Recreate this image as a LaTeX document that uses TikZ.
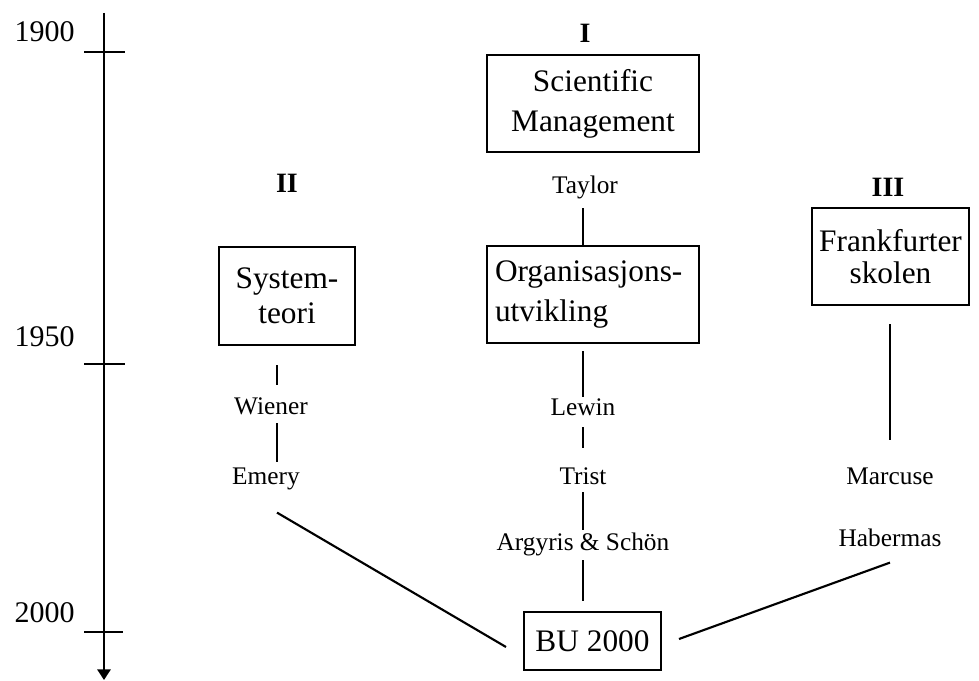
\documentclass[tikz,border=0pt]{standalone}
\usepackage{fontspec}
\setmainfont{Liberation Serif}
\usetikzlibrary{arrows.meta,calc}

\begin{document}
\begin{tikzpicture}[x=0.75pt,y=0.75pt,yscale=-1,xscale=1,
  box/.style={draw,line width=1.5pt,align=center,inner sep=2pt,font=\fontsize{23.5}{25}\selectfont},
  who/.style={inner sep=0pt,text height=13pt,text depth=4pt,font=\fontsize{19}{21}\selectfont},
  year/.style={anchor=east,inner sep=0pt,font=\fontsize{22.5}{24}\selectfont},
  school/.style={inner sep=0pt,font=\fontsize{21}{23}\selectfont\bfseries},
  link/.style={line width=1.6pt}]
\useasboundingbox (0,0) rectangle (979,681);

%Time axis
\coordinate (axtop) at (104,13);
\coordinate (axend) at (104,680);
\draw [line width=1.6pt,-{Triangle[width=10pt,length=8pt]}] (axtop) -- (axend);
\coordinate (t1900) at (104,52);
\coordinate (t1950) at (104,364);
\coordinate (t2000) at (104,632);
\draw [line width=1.8pt] (t1900) ++(-20,0) -- ++(41,0);
\draw [line width=1.8pt] (t1950) ++(-20,0) -- ++(41,0);
\draw [line width=0.8pt] (t2000) ++(-20,0) -- ++(39,0);

% Year labels
\node [year] (y1900) at (75,32) {1900};
\node [year] (y1950) at (75,337) {1950};
\node [year] (y2000) at (75,613) {2000};

% Column numbers
\node [school] (rI) at (585,33) {I};
\node [school] (rII) at (287,183) {II};
\node [school] (rIII) at (888,187) {III};

% Column lines
\coordinate (colII) at (277,0);
\coordinate (colI) at (583,0);
\coordinate (colIII) at (890,0);

% Boxes
\node [box,minimum width=159pt,minimum height=72.75pt,font=\fontsize{23.5}{30}\selectfont] (sm) at (593,103.5) {Scientific\\Management};
\node [box,minimum width=159pt,minimum height=72.75pt,text width=147pt,align=left,inner xsep=6pt,font=\fontsize{23.5}{30}\selectfont] (org) at (593,294.5) {Organisasjons-\\utvikling};
\node [box,minimum width=102pt,minimum height=73.5pt,font=\fontsize{23.5}{26}\selectfont] (sys) at (287,296) {System-\\teori};
\node [box,minimum width=117.75pt,minimum height=72.75pt,font=\fontsize{23.5}{24}\selectfont] (frank) at (890.5,256.5) {Frankfurter\\skolen};
\node [box,minimum width=102.75pt,minimum height=43.5pt] (bu) at (592.5,641) {BU 2000};

% Names
\node [who] (taylor) at (585,188) {Taylor};
\node [who] (wiener) at (271,408) {Wiener};
\node [who] (emery) at (266,478) {Emery};
\node [who] (lewin) at (583,409) {Lewin};
\node [who] (trist) at (583,478) {Trist};
\node [who] (argyris) at (583,544) {Argyris \& Schön};
\node [who] (marcuse) at (890,478) {Marcuse};
\node [who] (habermas) at (890,540) {Habermas};

% Links
\draw [link,shorten <=6.5pt] (taylor.south -| colI) -- (org.north -| colI);
\draw [link,shorten <=5.25pt] (org.south -| colI) -- (lewin.north -| colI);
\draw [link,shorten <=5pt,shorten >=14pt] (lewin.south -| colI) -- (trist.north -| colI);
\draw [link,shorten <=2pt,shorten >=2pt] (trist.south -| colI) -- (argyris.north -| colI);
\draw [link,shorten <=3.5pt,shorten >=7.5pt] (argyris.south -| colI) -- (bu.north -| colI);
\draw [link,shorten <=14.25pt,shorten >=8.8pt] (sys.south -| colII) -- (wiener.north -| colII);
\draw [link,shorten <=2.8pt,shorten >=3.5pt] (wiener.south -| colII) -- (emery.north -| colII);
\draw [link] ($(emery.south -| colII)+(0,23)$) -- ($(bu.west)+(-17,6)$);
\draw [link,shorten <=13.5pt,shorten >=20pt] (frank.south -| colIII) -- (marcuse.north -| colIII);
\draw [link] ($(habermas.south -| colIII)+(0,11)$) -- ($(bu.east)+(17,-2)$);
\end{tikzpicture}
\end{document}
